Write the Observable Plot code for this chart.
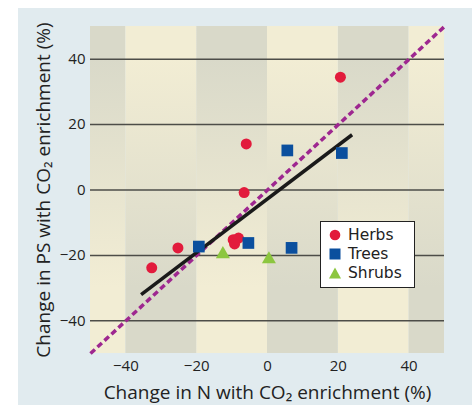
<!DOCTYPE html>
<html><head><meta charset="utf-8">
<script src="https://cdn.jsdelivr.net/npm/d3@7"></script>
<script src="https://cdn.jsdelivr.net/npm/@observablehq/plot@0.6"></script>
<style>
body{margin:0;background:#fff;font-family:"Open Sans",sans-serif;}
#wrap{position:relative;width:472px;height:405px;}
#bg{position:absolute;left:18px;top:8px;right:0;bottom:0;background:#e1ebef;}
#chart{position:absolute;left:0;top:0;}
#legend{position:absolute;left:320px;top:221px;width:93px;height:62px;border:1.6px solid #222;background:#fff;padding:0;box-sizing:content-box;}
.row{display:flex;align-items:center;height:19px;font-family:"DejaVu Sans",sans-serif;font-size:15.5px;color:#222;}
.row svg{margin-left:8px;margin-right:7px;flex:none;}
.row span{display:block;line-height:18px;}
</style></head>
<body><div id="wrap"><div id="bg"></div><div id="chart"></div>
<div id="legend"></div></div>
<script>
const herbsX = [20.6, -6.0, -6.6, -32.7, -25.3, -9.7, -8.2, -9.3];
const herbsY = [34.5, 14.1, -0.8, -23.8, -17.7, -15.2, -14.7, -16.5];
const treesX = [-19.4, -5.4, 5.6, 6.8, 21.0];
const treesY = [-17.3, -16.2, 12.1, -17.7, 11.3];
const shrubsX = [-12.6, 0.4];
const shrubsY = [-19.6, -21.2];
const fitX = [-35.7, 23.9];
const fitY = [-32.0, 16.9];
const oneToOne = [-50, 50];
const bandStart = [-50, -40, -20, 0, 20, 40];
const bandEnd = [-40, -20, 0, 20, 40, 50];
const bandKind = ["grayTop", "creamTop", "grayTop", "creamTop", "grayTop", "creamTop"];
const xTicks = [-40, -20, 0, 20, 40];
const yTicks = [-40, -20, 0, 20, 40];
const seriesNames = ["Herbs", "Trees", "Shrubs"];
const seriesColors = ["#e21b3c", "#0a4f9e", "#8cc63f"];
const xLabel = "Change in N with CO\u2082 enrichment (%)";
const yLabel = "Change in PS with CO\u2082 enrichment (%)";
const grayTone = "#d9d9c9";
const creamTone = "#f2edd4";

const bands = bandStart.map((s, i) => ({x1: s, x2: bandEnd[i], kind: bandKind[i]}));
const herbs = herbsX.map((x, i) => ({x, y: herbsY[i]}));
const trees = treesX.map((x, i) => ({x, y: treesY[i]}));
const shrubs = shrubsX.map((x, i) => ({x, y: shrubsY[i]}));
const fit = fitX.map((x, i) => ({x, y: fitY[i]}));
const ident = oneToOne.map(v => ({x: v, y: v}));
const fmt = d => d < 0 ? "\u2212" + Math.abs(d) : String(d);

const plot = Plot.plot({
  width: 472, height: 405,
  marginLeft: 90, marginRight: 28, marginTop: 26, marginBottom: 52,
  style: {background: "transparent", fontFamily: "'Open Sans', sans-serif", fontSize: "15px", color: "#222"},
  x: {domain: [-50, 50], ticks: xTicks, tickFormat: fmt, tickSize: 0, tickPadding: 7,
      label: xLabel, labelAnchor: "center", labelOffset: 45, labelArrow: false},
  y: {domain: [-50, 50], ticks: yTicks, tickFormat: fmt, tickSize: 0, tickPadding: 5,
      label: yLabel, labelAnchor: "center", labelOffset: 54, labelArrow: false},
  marks: [
    Plot.rect(bands.filter(d => d.kind === "grayTop"), {x1: "x1", x2: "x2", y1: -50, y2: 50, fill: "url(#grayTop)"}),
    Plot.rect(bands.filter(d => d.kind === "creamTop"), {x1: "x1", x2: "x2", y1: -50, y2: 50, fill: "url(#creamTop)"}),
    Plot.ruleY(yTicks, {stroke: "#4d4d48", strokeWidth: 1.5}),
    Plot.line(ident, {x: "x", y: "y", stroke: "#9e2790", strokeWidth: 3.5, strokeDasharray: "6 3.5", strokeLinecap: "butt"}),
    Plot.line(fit, {x: "x", y: "y", stroke: "#1a1a1a", strokeWidth: 3.5, strokeLinecap: "butt"}),
    Plot.dot(herbs, {x: "x", y: "y", r: 5.5, fill: seriesColors[0], symbol: "circle"}),
    Plot.dot(trees, {x: "x", y: "y", r: 6.6, fill: seriesColors[1], symbol: "square"}),
    Plot.dot(shrubs, {x: "x", y: "y", r: 5.2, fill: seriesColors[2], symbol: "triangle"})
  ]
});
// vertical gradients for the background stripes
const svg = d3.select(plot);
const defs = svg.insert("defs", ":first-child");
[["grayTop", grayTone, creamTone], ["creamTop", creamTone, grayTone]].forEach(([id, c0, c1]) => {
  const g = defs.append("linearGradient").attr("id", id).attr("x1", 0).attr("y1", 0).attr("x2", 0).attr("y2", 1);
  g.append("stop").attr("offset", "0.1").attr("stop-color", c0);
  g.append("stop").attr("offset", "0.8").attr("stop-color", c1);
});
plot.querySelectorAll("text").forEach(t => {
  if (t.textContent.includes("enrichment")) { t.setAttribute("font-size", "19px"); t.setAttribute("fill", "#222"); }
});
document.getElementById("chart").appendChild(plot);

const symPaths = {
  Herbs: '<circle cx="6" cy="6" r="5.3"/>',
  Trees: '<rect x="0.5" y="0.5" width="11" height="11"/>',
  Shrubs: '<path d="M6,0.5 L12,11.5 L0,11.5 Z"/>'
};
const leg = document.getElementById("legend");
leg.style.paddingTop = "3px";
seriesNames.forEach((n, i) => {
  const row = document.createElement("div");
  row.className = "row";
  row.innerHTML = `<svg width="12" height="12" fill="${seriesColors[i]}">${symPaths[n]}</svg><span>${n}</span>`;
  leg.appendChild(row);
});
</script></body></html>
